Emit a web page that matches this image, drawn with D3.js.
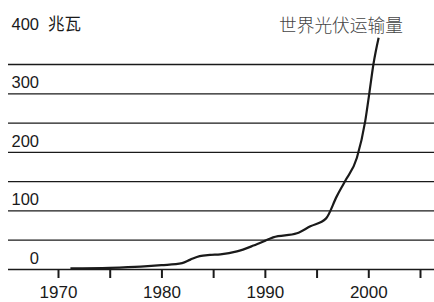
<!DOCTYPE html>
<html>
<head>
<meta charset="utf-8">
<script src="https://cdn.jsdelivr.net/npm/d3@7"></script>
<style>
  body { margin: 0; background: #fff; }
  svg text { fill: #1a1a1a; }
</style>
</head>
<body>
<div id="chart"></div>
<script>
// world PV shipments, megawatts (years are approximate)
var years  = [1971.2, 1975, 1978, 1980, 1982, 1982.8, 1983.7, 1984.7, 1985.7, 1987.3, 1988.9,
              1990, 1990.8, 1993.1, 1994.4, 1995.9, 1996.95, 1997.75, 1998.9,
              1999.7, 2000.1, 2000.5, 2001];
var values = [1, 2, 4, 6.5, 10, 16, 22, 24, 25, 30, 40,
              48, 54, 61, 73, 86, 124, 150, 190,
              252, 300, 350, 395];

var gridTicks = [0, 50, 100, 150, 200, 250, 300, 350];
var labelTicks = [0, 100, 200, 300, 400];
var xTicks = [1970, 1975, 1980, 1985, 1990, 1995, 2000, 2005];
var xLabels = [1970, 1980, 1990, 2000];
var unitLabel = "兆瓦";
var title = "世界光伏运输量";

var width = 434;
var height = 302;

var xScale = d3.scaleLinear()
	.domain([1970, 2005])
	.range([58, 420]);

var yScale = d3.scaleLinear()
	.domain([0, 350])
	.range([269, 64]);

var svg = d3.select("#chart")
	.append("svg")
	.attr("width", width)
	.attr("height", height);

// horizontal rules
var grid = d3.axisRight(yScale)
	.tickValues(gridTicks)
	.tickSize(width - 8)
	.tickFormat("");

svg.append("g")
	.attr("class", "grid")
	.attr("transform", "translate(8,0)")
	.call(grid)
	.call(function(g){
		g.select(".domain").remove();
		g.selectAll("line").attr("stroke", "#1a1a1a").attr("stroke-width", 1.3);
	});

// y labels sit just above their rule
svg.append("g")
	.selectAll("text")
	.data(labelTicks)
	.enter()
	.append("text")
	.attr("x", 39)
	.attr("y", function(d){ return yScale(d) - 5; })
	.attr("text-anchor", "end")
	.style("font-family", "'Liberation Sans', Arial, sans-serif")
	.style("font-size", "16.5px")
	.text(function(d){ return d; });

svg.append("text")
	.attr("x", 48)
	.attr("y", yScale(400) - 5)
	.style("font-family", "'Noto Sans CJK SC', sans-serif")
	.style("font-size", "16.5px")
	.text(unitLabel);

// x axis ticks
var xAxis = d3.axisBottom(xScale)
	.tickValues(xTicks)
	.tickSize(9)
	.tickPadding(8)
	.tickFormat(function(d){ return xLabels.indexOf(d) >= 0 ? d : ""; });

svg.append("g")
	.attr("class", "x axis")
	.attr("transform", "translate(0," + yScale(0) + ")")
	.call(xAxis)
	.call(function(g){
		g.select(".domain").remove();
		g.selectAll("line").attr("stroke", "#1a1a1a").attr("stroke-width", 2);
		g.selectAll("text")
			.style("font-family", "'Liberation Sans', Arial, sans-serif")
			.style("font-size", "17px")
			.attr("fill", "#1a1a1a");
	});

// the series
var pts = years.map(function(y, i){ return [y, values[i]]; });

var line = d3.line()
	.x(function(d){ return xScale(d[0]); })
	.y(function(d){ return yScale(d[1]); })
	.curve(d3.curveMonotoneX);

svg.append("path")
	.datum(pts)
	.attr("d", line)
	.attr("fill", "none")
	.attr("stroke", "#1a1a1a")
	.attr("stroke-width", 2.2);

svg.append("text")
	.attr("x", 279)
	.attr("y", 32)
	.style("font-family", "'Noto Sans CJK SC', sans-serif")
	.style("font-size", "17.7px")
	.style("font-weight", 300)
	.style("fill", "#444")
	.text(title);
</script>
</body>
</html>
